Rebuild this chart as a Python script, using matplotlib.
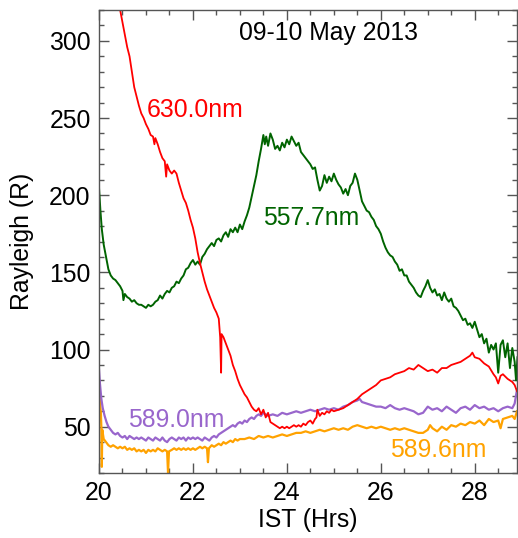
import matplotlib
matplotlib.use("Agg")
import matplotlib.pyplot as plt
from matplotlib.ticker import MultipleLocator

plt.rcParams['font.family'] = ['Liberation Sans', 'DejaVu Sans']

# ---------------- data ----------------
green_t = [20.00, 20.03, 20.06, 20.10, 20.15, 20.20, 20.25, 20.30, 20.35, 20.40, 20.45, 20.50, 20.52, 20.55,
           20.60, 20.65, 20.70, 20.75, 20.80, 20.85, 20.90, 20.95, 21.00, 21.05, 21.10, 21.15, 21.20, 21.25,
           21.30, 21.35, 21.40, 21.45, 21.50, 21.55, 21.60, 21.65, 21.70, 21.75, 21.80, 21.85, 21.90, 21.95,
           22.00, 22.05, 22.10, 22.15, 22.20, 22.25, 22.30, 22.35, 22.40, 22.45, 22.50, 22.55, 22.60, 22.65,
           22.70, 22.75, 22.80, 22.85, 22.90, 22.95, 23.00, 23.05, 23.10, 23.15, 23.20, 23.25, 23.30, 23.35,
           23.40, 23.45, 23.50, 23.53, 23.56, 23.60, 23.65, 23.70, 23.75, 23.80, 23.85, 23.90, 23.95, 24.00,
           24.05, 24.10, 24.15, 24.20, 24.25, 24.30, 24.35, 24.40, 24.45, 24.50, 24.55, 24.60, 24.65, 24.70,
           24.75, 24.80, 24.85, 24.90, 24.95, 25.00, 25.05, 25.10, 25.15, 25.20, 25.25, 25.30, 25.35, 25.40,
           25.45, 25.50, 25.55, 25.60, 25.65, 25.70, 25.75, 25.80, 25.85, 25.90, 25.95, 26.00, 26.05, 26.10,
           26.15, 26.20, 26.25, 26.30, 26.35, 26.40, 26.45, 26.50, 26.55, 26.60, 26.65, 26.70, 26.75, 26.80,
           26.85, 26.90, 26.95, 27.00, 27.05, 27.10, 27.15, 27.20, 27.25, 27.30, 27.35, 27.40, 27.45, 27.50,
           27.55, 27.60, 27.65, 27.70, 27.75, 27.80, 27.85, 27.90, 27.95, 28.00, 28.05, 28.10, 28.15, 28.20,
           28.25, 28.30, 28.35, 28.40, 28.45, 28.50, 28.55, 28.60, 28.65, 28.70, 28.75, 28.80, 28.85, 28.88,
           28.91]
green_v = [205, 190, 178, 168, 160, 152, 148, 146, 145, 143, 141, 138, 132, 136,
           134, 133, 131, 132, 130, 129, 129, 128, 127, 129, 128, 129, 131, 132,
           135, 133, 136, 138, 137, 140, 141, 144, 143, 146, 148, 152, 153, 156,
           158, 155, 157, 155, 160, 162, 165, 167, 169, 167, 171, 172, 170, 174,
           176, 173, 178, 176, 179, 176, 181, 178, 183, 187, 192, 199, 206, 213,
           222, 230, 239, 233, 238, 232, 240, 236, 230, 232, 229, 234, 231, 236,
           233, 238, 235, 232, 234, 228, 226, 224, 222, 220, 217, 218, 210, 203,
           206, 213, 208, 212, 209, 214, 210, 207, 205, 201, 204, 200, 206, 208,
           214, 210, 203, 196, 193, 190, 189, 186, 184, 180, 178, 175, 170, 166,
           163, 161, 160, 157, 155, 151, 152, 148, 148, 144, 142, 140, 137, 135,
           134, 138, 141, 145, 140, 137, 139, 135, 136, 132, 137, 133, 131, 133,
           128, 127, 125, 122, 119, 120, 116, 117, 114, 118, 113, 108, 110, 104,
           107, 98, 103, 100, 104, 85, 103, 106, 95, 104, 88, 101, 92, 80,
           95]

red_t = [20.45, 20.50, 20.55, 20.60, 20.65, 20.70, 20.75, 20.80, 20.85, 20.90, 20.95, 21.00, 21.05, 21.10,
         21.15, 21.18, 21.20, 21.25, 21.30, 21.35, 21.40, 21.43, 21.45, 21.50, 21.55, 21.60, 21.65, 21.70,
         21.75, 21.80, 21.85, 21.90, 21.95, 22.00, 22.05, 22.10, 22.15, 22.20, 22.25, 22.30, 22.35, 22.40,
         22.45, 22.50, 22.55, 22.58, 22.60, 22.61, 22.65, 22.70, 22.75, 22.80, 22.85, 22.90, 22.95, 23.00,
         23.05, 23.10, 23.15, 23.20, 23.25, 23.30, 23.35, 23.40, 23.45, 23.50, 23.55, 23.60, 23.65, 23.70,
         23.75, 23.80, 23.85, 23.90, 23.95, 24.00, 24.05, 24.10, 24.15, 24.20, 24.25, 24.30, 24.35, 24.40,
         24.45, 24.50, 24.55, 24.60, 24.63, 24.65, 24.70, 24.75, 24.80, 24.85, 24.90, 24.95, 25.00, 25.10,
         25.20, 25.30, 25.40, 25.50, 25.60, 25.70, 25.80, 25.90, 26.00, 26.10, 26.20, 26.30, 26.40, 26.50,
         26.60, 26.70, 26.80, 26.90, 27.00, 27.10, 27.20, 27.30, 27.40, 27.50, 27.60, 27.70, 27.80, 27.90,
         27.95, 28.00, 28.10, 28.20, 28.30, 28.40, 28.45, 28.50, 28.55, 28.60, 28.70, 28.80, 28.85, 28.90]
red_v = [320, 312, 304, 296, 290, 280, 270, 264, 258, 253, 250, 246, 243, 239,
         238, 233, 237, 233, 228, 224, 222, 212, 220, 216, 214, 216, 214, 208,
         203, 198, 195, 190, 184, 179, 172, 163, 156, 150, 144, 139, 135, 131,
         127, 124, 120, 108, 85, 110, 108, 104, 100, 96, 90, 86, 81, 77,
         74, 71, 69, 66, 63, 61, 60, 62, 58, 61, 56, 59, 53, 52,
         51, 50, 49, 50, 49, 50, 49, 50, 51, 50, 51, 50, 52, 51,
         53, 54, 52, 55, 56, 61, 57, 59, 58, 60, 59, 61, 60, 61,
         62, 64, 66, 68, 71, 73, 75, 77, 80, 81, 82, 84, 85, 86,
         88, 87, 90, 88, 86, 87, 85, 88, 88, 90, 91, 92, 94, 96,
         98, 95, 94, 91, 89, 84, 82, 78, 83, 84, 81, 79, 77, 73]

purple_t = [20.00, 20.02, 20.05, 20.08, 20.12, 20.16, 20.20, 20.25, 20.30, 20.35, 20.40, 20.45, 20.50, 20.55,
            20.60, 20.65, 20.70, 20.75, 20.80, 20.85, 20.90, 20.95, 21.00, 21.05, 21.10, 21.15, 21.20, 21.25,
            21.30, 21.35, 21.40, 21.45, 21.50, 21.55, 21.60, 21.65, 21.70, 21.75, 21.80, 21.85, 21.90, 21.95,
            22.00, 22.05, 22.10, 22.15, 22.20, 22.25, 22.30, 22.35, 22.40, 22.45, 22.50, 22.55, 22.60, 22.65,
            22.70, 22.75, 22.80, 22.85, 22.90, 22.95, 23.00, 23.05, 23.10, 23.15, 23.20, 23.25, 23.30, 23.35,
            23.40, 23.45, 23.50, 23.55, 23.60, 23.70, 23.80, 23.90, 24.00, 24.10, 24.20, 24.30, 24.40, 24.50,
            24.60, 24.70, 24.80, 24.90, 25.00, 25.10, 25.20, 25.30, 25.40, 25.50, 25.55, 25.60, 25.70, 25.80,
            25.90, 26.00, 26.10, 26.20, 26.30, 26.40, 26.50, 26.60, 26.70, 26.80, 26.90, 27.00, 27.10, 27.20,
            27.30, 27.40, 27.50, 27.60, 27.70, 27.80, 27.90, 28.00, 28.10, 28.20, 28.30, 28.40, 28.50, 28.60,
            28.70, 28.80, 28.85, 28.90]
purple_v = [87, 78, 68, 62, 57, 53, 50, 48, 46, 45, 46, 44, 43, 44,
            42, 44, 43, 42, 43, 42, 43, 42, 41, 43, 42, 41, 43, 42,
            41, 43, 41, 40, 42, 43, 42, 41, 43, 42, 43, 41, 43, 42,
            43, 42, 43, 42, 41, 43, 42, 41, 43, 44, 43, 45, 46, 47,
            48, 49, 50, 51, 50, 52, 53, 52, 54, 53, 55, 56, 55, 57,
            58, 57, 59, 58, 57, 58, 57, 59, 58, 59, 60, 59, 60, 61,
            60, 61, 62, 61, 62, 61, 63, 64, 66, 67, 68, 66, 65, 64,
            63, 63, 62, 64, 62, 61, 62, 61, 60, 58, 59, 63, 61, 62,
            60, 63, 61, 59, 62, 63, 61, 64, 62, 63, 61, 62, 60, 62,
            63, 62, 65, 74]

orange_t = [20.00, 20.02, 20.04, 20.05, 20.06, 20.07, 20.10, 20.15, 20.20, 20.25, 20.30, 20.35, 20.40, 20.45,
            20.50, 20.55, 20.60, 20.65, 20.70, 20.75, 20.80, 20.85, 20.90, 20.95, 21.00, 21.05, 21.10, 21.15,
            21.20, 21.25, 21.30, 21.35, 21.40, 21.45, 21.47, 21.49, 21.55, 21.60, 21.65, 21.70, 21.75, 21.80,
            21.85, 21.90, 21.95, 22.00, 22.05, 22.10, 22.15, 22.20, 22.25, 22.30, 22.32, 22.34, 22.40, 22.45,
            22.50, 22.55, 22.60, 22.65, 22.70, 22.75, 22.80, 22.85, 22.90, 22.95, 23.00, 23.10, 23.20, 23.30,
            23.40, 23.50, 23.60, 23.70, 23.80, 23.90, 24.00, 24.10, 24.20, 24.30, 24.40, 24.50, 24.60, 24.70,
            24.80, 24.90, 25.00, 25.10, 25.20, 25.30, 25.40, 25.50, 25.60, 25.70, 25.80, 25.90, 26.00, 26.10,
            26.20, 26.30, 26.40, 26.50, 26.60, 26.70, 26.80, 26.90, 27.00, 27.05, 27.10, 27.20, 27.30, 27.40,
            27.50, 27.60, 27.70, 27.80, 27.90, 28.00, 28.10, 28.20, 28.30, 28.40, 28.50, 28.55, 28.60, 28.70,
            28.80, 28.85, 28.90]
orange_v = [77, 66, 59, 50, 24, 48, 42, 40, 38, 37, 38, 37, 36, 37,
            36, 37, 35, 36, 35, 36, 34, 35, 34, 35, 33, 35, 34, 35,
            34, 36, 35, 34, 35, 34, 20, 34, 35, 36, 35, 36, 35, 36,
            35, 36, 35, 36, 35, 36, 37, 36, 37, 36, 27, 36, 38, 37,
            38, 39, 38, 40, 39, 40, 41, 40, 42, 41, 42, 42, 43, 42,
            44, 43, 44, 43, 44, 45, 44, 45, 46, 46, 47, 46, 47, 48,
            47, 48, 49, 48, 49, 48, 50, 51, 50, 49, 50, 49, 50, 49,
            48, 49, 48, 49, 48, 47, 46, 46, 48, 51, 49, 47, 50, 48,
            51, 50, 52, 51, 53, 52, 54, 51, 55, 53, 54, 49, 55, 56,
            57, 55, 60]

series_labels = ['630.0nm', '557.7nm', '589.0nm', '589.6nm']
title_text = '09-10 May 2013'
x_ticks = [20, 22, 24, 26, 28]
y_ticks = [50, 100, 150, 200, 250, 300]

# ---------------- figure ----------------
fig = plt.figure(figsize=(5.18, 5.38), dpi=100)
ax = fig.add_axes([99/518, 1 - 473/538, (517 - 99)/518, (473 - 10)/538])

c_red, c_green, c_purple, c_orange = '#ff0000', '#006400', '#9966cc', '#ffa200'

ax.plot(orange_t, orange_v, color=c_orange, lw=1.6)
ax.plot(purple_t, purple_v, color=c_purple, lw=1.6)
ax.plot(green_t, green_v, color=c_green, lw=1.4)
ax.plot(red_t, red_v, color=c_red, lw=1.3)

ax.set_xlim(20, 28.9)
ax.set_ylim(20, 320)
ax.set_xticks(x_ticks)
ax.set_yticks(y_ticks)
ax.xaxis.set_minor_locator(MultipleLocator(0.5))
ax.yaxis.set_minor_locator(MultipleLocator(10))

fs = 17.8
ax.tick_params(which='both', direction='in', top=True, right=True, colors='#555555',
               labelcolor='black', labelsize=fs, width=1)
ax.tick_params(which='major', length=7, pad=6)
ax.tick_params(which='minor', length=3.5)
for s in ax.spines.values():
    s.set_color('#555555')
    s.set_linewidth(1)

ax.set_xlabel('IST (Hrs)', fontsize=fs, labelpad=2)
ax.set_ylabel('Rayleigh (R)', fontsize=fs, labelpad=11)

ax.text(21.02, 255, series_labels[0], color=c_red, fontsize=fs, ha='left', va='center')
ax.text(23.49, 185, series_labels[1], color=c_green, fontsize=fs, ha='left', va='center')
ax.text(20.62, 54.5, series_labels[2], color=c_purple, fontsize=fs, ha='left', va='center')
ax.text(26.19, 35, series_labels[3], color=c_orange, fontsize=fs, ha='left', va='center')
ax.text(24.89, 305, title_text, color='black', fontsize=fs, ha='center', va='center')

fig.savefig('out.png', dpi=100)
